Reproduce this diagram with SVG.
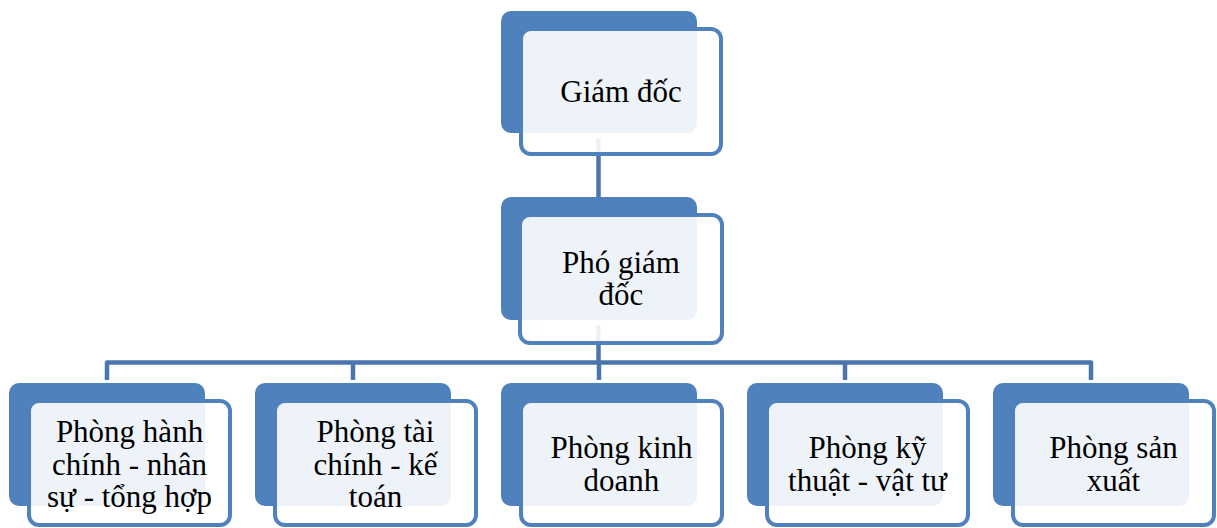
<svg xmlns="http://www.w3.org/2000/svg" width="1217" height="528" viewBox="0 0 1217 528">
<style>
.back{fill:#4f81bd}
.front{fill:#ffffff;fill-opacity:0.9;stroke:#4f81bd;stroke-width:4}
.conn{fill:none;stroke:#4a76ad;stroke-width:4.5;stroke-linejoin:round}
text{font-family:"Liberation Serif","Times New Roman",serif;font-size:31px;fill:#000;text-anchor:middle}
</style>
<rect width="1217" height="528" fill="#ffffff"/>
<g id="connectors">
<line class="conn" x1="598.5" y1="139" x2="598.5" y2="198"/>
<line class="conn" x1="598.5" y1="325" x2="598.5" y2="362.5"/>
<path class="conn" d="M107,380 V362.5 H1091 V380"/>
<line class="conn" x1="353" y1="362.5" x2="353" y2="380"/>
<line class="conn" x1="599" y1="362.5" x2="599" y2="380"/>
<line class="conn" x1="845" y1="362.5" x2="845" y2="380"/>
</g>
<g id="giam-doc">
<rect class="back" x="501" y="11" width="196" height="122" rx="10"/>
<rect class="front" x="521" y="29" width="200" height="125" rx="10"/>
<text x="621" y="102">Giám đốc</text>
</g>
<g id="pho-giam-doc">
<rect class="back" x="501" y="197" width="196" height="123" rx="10"/>
<rect class="front" x="520" y="215" width="202" height="128" rx="10"/>
<text x="621" y="273">Phó giám</text>
<text x="621" y="305">đốc</text>
</g>
<g id="phong-hanh-chinh">
<rect class="back" x="9" y="383" width="196" height="123" rx="10"/>
<rect class="front" x="29" y="401" width="201" height="124" rx="10"/>
<text x="129.5" y="442">Phòng hành</text>
<text x="129.5" y="474.5">chính - nhân</text>
<text x="129.5" y="507">sự - tổng hợp</text>
</g>
<g id="phong-tai-chinh">
<rect class="back" x="255" y="383" width="196" height="123" rx="10"/>
<rect class="front" x="275" y="401" width="201" height="124" rx="10"/>
<text x="375.5" y="442">Phòng tài</text>
<text x="375.5" y="474.5">chính - kế</text>
<text x="375.5" y="507">toán</text>
</g>
<g id="phong-kinh-doanh">
<rect class="back" x="501" y="383" width="196" height="123" rx="10"/>
<rect class="front" x="521" y="401" width="201" height="124" rx="10"/>
<text x="621.5" y="458">Phòng kinh</text>
<text x="621.5" y="490.5">doanh</text>
</g>
<g id="phong-ky-thuat">
<rect class="back" x="747" y="383" width="196" height="123" rx="10"/>
<rect class="front" x="767" y="401" width="201" height="124" rx="10"/>
<text x="867.5" y="458">Phòng kỹ</text>
<text x="867.5" y="490.5">thuật - vật tư</text>
</g>
<g id="phong-san-xuat">
<rect class="back" x="993" y="383" width="196" height="123" rx="10"/>
<rect class="front" x="1013" y="401" width="201" height="124" rx="10"/>
<text x="1113.5" y="458">Phòng sản</text>
<text x="1113.5" y="490.5">xuất</text>
</g>
</svg>
